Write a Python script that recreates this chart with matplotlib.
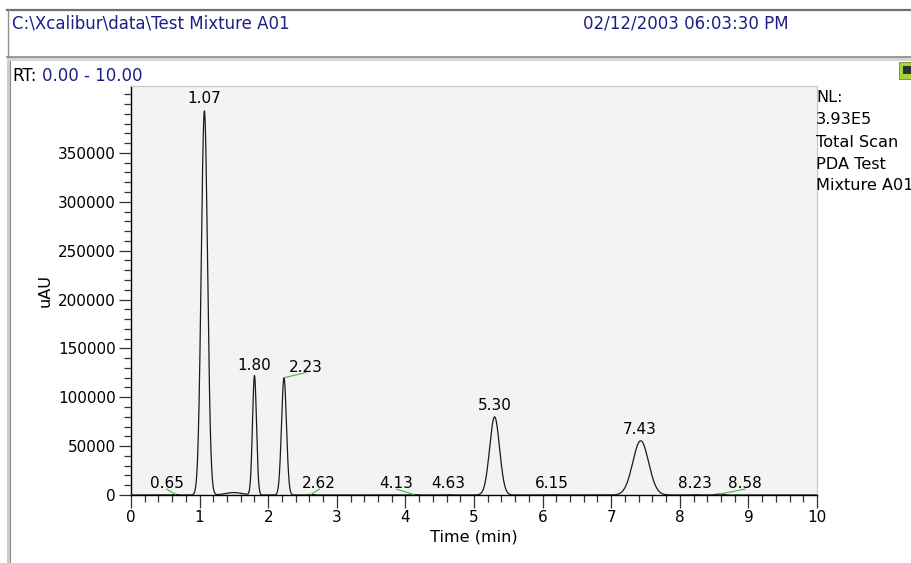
import numpy as np
import matplotlib
matplotlib.use("Agg")
import matplotlib.pyplot as plt
from matplotlib.lines import Line2D
from matplotlib.patches import Rectangle
from matplotlib.ticker import MultipleLocator
from matplotlib.transforms import offset_copy

plt.rcParams["font.family"] = ["DejaVu Sans"]

# ---- chromatogram peak table (retention time, apex height, gaussian sigma) ----
peak_times = [0.65, 1.07, 1.50, 1.80, 2.23, 2.62, 4.13, 4.63, 5.30, 6.15, 7.43, 8.23, 8.58]
peak_heights = [600, 393000, 2500, 122000, 120000, 500, 400, 300, 80000, 300, 55500, 300, 900]
peak_sigmas = [0.03, 0.046, 0.12, 0.029, 0.036, 0.03, 0.03, 0.03, 0.072, 0.03, 0.115, 0.03, 0.05]
labelled_peaks = ["0.65", "1.07", "1.80", "2.23", "2.62", "4.13", "4.63", "5.30",
                  "6.15", "7.43", "8.23", "8.58"]

x_ticks = [0, 1, 2, 3, 4, 5, 6, 7, 8, 9, 10]
y_ticks = [0, 50000, 100000, 150000, 200000, 250000, 300000, 350000]

header_path = "C:\\Xcalibur\\data\\Test Mixture A01"
header_date = "02/12/2003 06:03:30 PM"
rt_range = "0.00 - 10.00"
side_info = ["NL:", "3.93E5", "Total Scan", "PDA Test", "Mixture A01"]

# ---- label placement: (x, baseline y, draw leader) in data units ----
label_layout = {
    "0.65": (0.52, 6700, True),
    "1.07": (1.07, 401000, False),
    "1.80": (1.79, 127900, False),
    "2.23": (2.55, 126000, True),
    "2.62": (2.745, 6700, True),
    "4.13": (3.87, 6700, True),
    "4.63": (4.63, 6700, False),
    "5.30": (5.30, 87000, False),
    "6.15": (6.13, 6700, False),
    "7.43": (7.42, 62000, False),
    "8.23": (8.22, 6700, False),
    "8.58": (8.95, 6700, True),
}

W, H = 912, 563
fig = plt.figure(figsize=(W / 100, H / 100), dpi=100)
fig.patch.set_facecolor("white")


def fp(x, y):
    return x / W, 1 - y / H


def hline(x0, x1, y, color, lw):
    (a, b), (c, _) = fp(x0, y), fp(x1, y)
    fig.add_artist(Line2D([a, c], [b, b], color=color, lw=lw, transform=fig.transFigure))


def vline(x, y0, y1, color, lw):
    (a, b), (_, d) = fp(x, y0), fp(x, y1)
    fig.add_artist(Line2D([a, a], [b, d], color=color, lw=lw, transform=fig.transFigure))


# ---- window frames ----
hline(7, W, 10, "#707070", 1.6)
vline(8, 10, 57, "#909090", 1.0)
fig.add_artist(Rectangle(fp(7, 61), (W - 7) / W, 4 / H, transform=fig.transFigure,
                         facecolor="#d8d6d0", edgecolor="none"))
hline(7, W, 57, "#8a8a8a", 1.2)
fig.add_artist(Rectangle(fp(7, H), 3.5 / W, (H - 61) / H, transform=fig.transFigure,
                         facecolor="#cfccc4", edgecolor="none"))
vline(10.5, 61, H, "#8a8a8a", 0.8)
# small toolbar icon
fig.add_artist(Rectangle(fp(899, 79), 13 / W, 17 / H, transform=fig.transFigure,
                         facecolor="#a6d23c", edgecolor="#6a8a20", lw=0.6))
fig.add_artist(Rectangle(fp(903, 74), 8 / W, 8 / H, transform=fig.transFigure,
                         facecolor="#303030", edgecolor="none"))

blue = "#1e1e86"
fig.text(*fp(12, 29), header_path, color=blue, fontsize=12, ha="left", va="baseline")
fig.text(*fp(583, 29), header_date, color=blue, fontsize=12, ha="left", va="baseline")
t_rt = fig.text(*fp(12, 81), "RT:", color="black", fontsize=12, ha="left", va="baseline")
fig.text(*fp(42, 81), rt_range, color=blue, fontsize=12, ha="left", va="baseline")

for txt, yb in zip(side_info, [102, 124.5, 147, 169, 190]):
    fig.text(*fp(816, yb), txt, color="black", fontsize=11.6, ha="left", va="baseline")

# ---- chromatogram ----
ax = fig.add_axes([131 / W, (H - 495) / H, 686 / W, 409 / H])
ax.set_facecolor("#f2f3f2")

t = np.linspace(0, 10, 5001)
signal = np.zeros_like(t)
for rt, h, s in zip(peak_times, peak_heights, peak_sigmas):
    signal += h * np.exp(-0.5 * ((t - rt) / s) ** 2)
ax.plot(t, signal, color="#1a1a1a", lw=0.9, zorder=3)

for lab in labelled_peaks:
    rt = float(lab)
    apex = float(np.interp(rt, t, signal))
    lx, ly, leader = label_layout[lab]
    ax.text(lx, ly, lab, ha="center", va="baseline", fontsize=11, color="black", zorder=4)
    if leader:
        ax.plot([rt, lx], [apex, ly - 700], color="#3cb83c", lw=0.8, zorder=3)

ax.set_xlim(0, 10)
ax.set_ylim(0, 418500)
ax.set_xticks(x_ticks)
ax.set_xticklabels([str(v) for v in x_ticks])
ax.set_yticks(y_ticks)
ax.set_yticklabels([str(v) for v in y_ticks])
ax.xaxis.set_minor_locator(MultipleLocator(0.2))
ax.yaxis.set_minor_locator(MultipleLocator(10000))
ax.tick_params(axis="both", which="major", direction="out", length=9, width=0.9,
               labelsize=11, pad=2, color="#333333")
ax.tick_params(axis="both", which="minor", direction="out", length=5, width=0.9,
               color="#333333")
for side in ("top", "right"):
    ax.spines[side].set_color("#c4c4c4")
    ax.spines[side].set_linewidth(0.8)
for side in ("left", "bottom"):
    ax.spines[side].set_color("black")
    ax.spines[side].set_linewidth(1.0)

ax.set_xlabel("Time (min)", fontsize=11.6, labelpad=3)
ax.set_ylabel("uAU", fontsize=11.6, labelpad=4)

fig.savefig("out.png", dpi=100, facecolor="white")
